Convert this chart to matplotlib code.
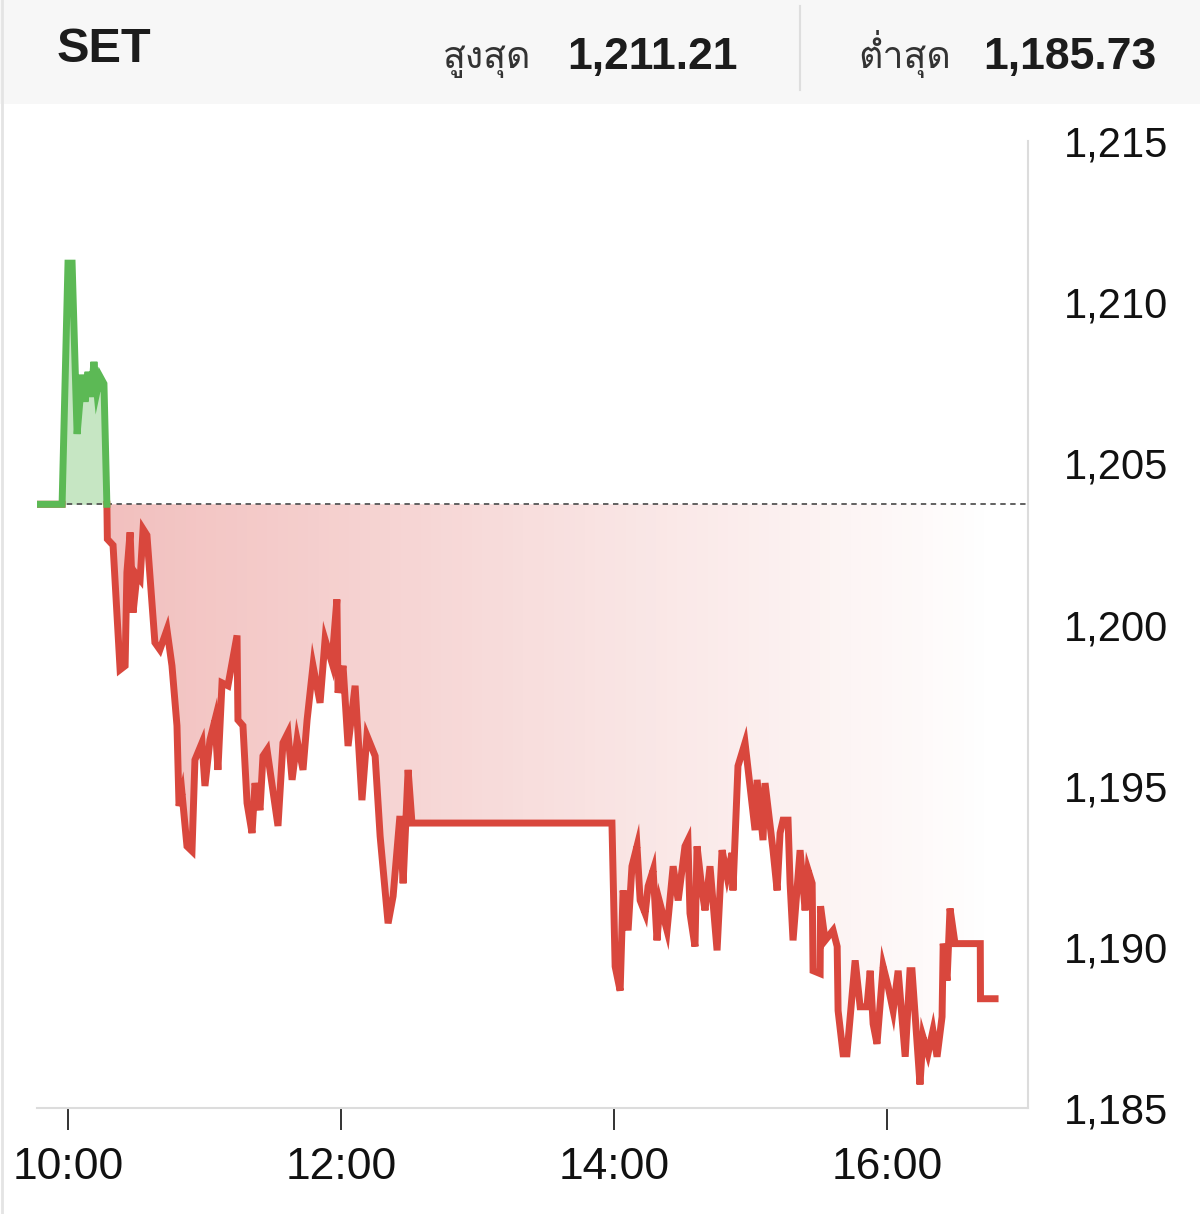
import numpy as np
import matplotlib
matplotlib.use("Agg")
import matplotlib.pyplot as plt
from matplotlib import font_manager
from matplotlib.ft2font import FT2Font
from matplotlib.path import Path
from matplotlib.patches import Rectangle
from matplotlib.lines import Line2D

# ข้อมูลดัชนี SET ระหว่างวัน (นาทีนับจาก 10:00, ราคา)
minutes = [-13.2, -2.6, 0.0, 1.8, 4.0, 6.2, 7.5, 8.8, 10.1, 11.4,
           12.7, 14.1, 15.8, 17.1, 17.3, 19.8, 22.9, 25.1, 25.9, 27.3,
           28.6, 30.3, 31.7, 33.0, 34.7, 36.9, 38.2, 40.4, 43.5, 45.7,
           47.9, 48.8, 50.1, 52.3, 54.5, 55.8, 58.9, 60.2, 62.4, 64.6,
           65.9, 67.7, 70.3, 74.3, 74.7, 76.9, 78.7, 80.9, 82.2, 84.4,
           85.7, 87.5, 92.3, 94.5, 96.7, 98.5, 100.7, 103.3, 105.1, 107.7,
           110.8, 113.0, 116.0, 118.2, 118.7, 120.9, 123.1, 126.2, 129.2, 131.4,
           135.0, 137.2, 140.7, 142.9, 145.9, 147.3, 149.5, 151.2, 239.1, 240.5,
           242.7, 244.0, 246.2, 247.9, 250.1, 251.5, 253.7, 255.0, 257.2, 258.9,
           260.2, 263.3, 266.0, 268.2, 271.2, 272.5, 273.4, 275.6, 276.5, 278.7,
           280.0, 282.2, 285.3, 287.5, 289.7, 291.9, 292.3, 294.5, 297.6, 302.0,
           302.9, 305.5, 306.4, 309.9, 311.7, 313.0, 314.3, 316.5, 317.4, 318.7,
           321.8, 324.0, 325.3, 327.1, 327.5, 330.6, 330.8, 332.8, 336.3, 338.1,
           338.5, 340.7, 342.4, 346.0, 348.2, 351.2, 352.6, 353.9, 355.6, 358.3,
           360.5, 362.7, 364.9, 368.0, 370.1, 371.0, 374.5, 375.8, 378.0, 380.2,
           382.0, 384.2, 384.7, 386.4, 387.7, 389.9, 401.0, 401.1, 407.5]
prices = [1203.73, 1203.73, 1211.21, 1211.21, 1205.91, 1207.75, 1206.91, 1207.84, 1207.06, 1208.15,
          1207.22, 1207.69, 1207.47, 1203.70, 1202.65, 1202.46, 1198.60, 1198.72, 1201.62, 1202.86,
          1200.37, 1201.53, 1201.40, 1202.96, 1202.77, 1200.68, 1199.44, 1199.22, 1199.84, 1198.72,
          1196.86, 1194.37, 1194.77, 1193.12, 1192.97, 1195.80, 1196.33, 1194.99, 1196.42, 1197.04,
          1195.49, 1198.19, 1198.10, 1199.66, 1197.04, 1196.86, 1194.46, 1193.53, 1195.08, 1194.24,
          1195.92, 1196.11, 1193.75, 1196.33, 1196.64, 1195.18, 1196.42, 1195.49, 1197.04, 1198.72,
          1197.57, 1199.53, 1198.82, 1200.78, 1197.88, 1198.72, 1196.23, 1198.10, 1194.55, 1196.55,
          1195.92, 1193.43, 1190.73, 1191.57, 1194.06, 1191.97, 1195.49, 1193.84, 1193.84, 1189.39,
          1188.64, 1191.75, 1190.51, 1192.50, 1193.12, 1191.44, 1191.04, 1191.88, 1192.38, 1190.20,
          1191.35, 1190.51, 1192.50, 1191.44, 1193.12, 1193.31, 1191.04, 1190.01, 1193.12, 1191.75,
          1191.13, 1192.50, 1189.89, 1193.00, 1192.19, 1192.91, 1191.75, 1195.61, 1196.33, 1193.62,
          1195.18, 1193.31, 1195.08, 1193.00, 1191.75, 1193.53, 1193.93, 1193.93, 1191.97, 1190.20,
          1193.00, 1191.13, 1192.38, 1191.97, 1189.26, 1189.17, 1191.26, 1190.20, 1190.51, 1190.01,
          1188.02, 1186.68, 1186.68, 1189.58, 1188.14, 1188.14, 1189.26, 1187.61, 1186.99, 1189.39,
          1188.77, 1188.02, 1189.26, 1186.59, 1189.26, 1189.26, 1185.73, 1187.21, 1186.68, 1187.40,
          1186.59, 1187.83, 1190.10, 1188.95, 1191.19, 1190.10, 1190.10, 1188.39, 1188.39]

prev_close = 1203.73
day_high = "1,211.21"
day_low = "1,185.73"
xtick_pos = [0, 120, 240, 360]
xtick_labels = ["10:00", "12:00", "14:00", "16:00"]
ytick_pos = [1185, 1190, 1195, 1200, 1205, 1210, 1215]

RED = "#d9473d"
GREEN = "#5cb955"
W, H = 1200, 1214


def thai_font():
    # หา font ที่มีอักษรไทย
    for f in font_manager.fontManager.ttflist:
        try:
            ft = FT2Font(f.fname)
            if ft.get_char_index(ord("ส")) and ft.get_char_index(ord("ุ")):
                return f.name
        except Exception:
            pass
    return "DejaVu Sans"


def add_crossings(t, v, base):
    ts, vs = [t[0]], [v[0]]
    for i in range(1, len(t)):
        a, b = v[i - 1] - base, v[i] - base
        if a * b < 0:
            f = a / (a - b)
            ts.append(t[i - 1] + f * (t[i] - t[i - 1]))
            vs.append(base)
        ts.append(t[i])
        vs.append(v[i])
    return np.array(ts), np.array(vs)


plt.rcParams["font.family"] = ["Liberation Sans", "DejaVu Sans"]
TH = thai_font()

fig = plt.figure(figsize=(W / 100, H / 100), dpi=100)
fig.patch.set_facecolor("white")

# header band
fig.patches.append(Rectangle((0, 1 - 104 / H), 1, 104 / H, transform=fig.transFigure,
                             facecolor="#f7f7f7", edgecolor="none", zorder=0))
fig.lines.append(Line2D([800 / W, 800 / W], [1 - 6 / H, 1 - 90 / H], transform=fig.transFigure,
                        color="#dedede", lw=1.5))
fig.lines.append(Line2D([2 / W, 2 / W], [0, 1], transform=fig.transFigure, color="#e4e4e4", lw=2))

fig.text(57 / W, 1 - 62 / H, "SET", fontsize=35, fontweight="bold", color="#1c1c1c", va="baseline")
fig.text(443 / W, 1 - 68 / H, "สูงสุด", fontsize=27, color="#333333", va="baseline",
         family=[TH, "DejaVu Sans"])
fig.text(567 / W, 1 - 69 / H, day_high, fontsize=32, fontweight="bold", color="#1c1c1c", va="baseline")
fig.text(858 / W, 1 - 68 / H, "ต่ำสุด", fontsize=27, color="#333333", va="baseline",
         family=[TH, "DejaVu Sans"])
fig.text(983 / W, 1 - 69 / H, day_low, fontsize=32, fontweight="bold", color="#1c1c1c", va="baseline")

ax = fig.add_axes([37 / W, 1 - 1108 / H, (1028 - 37) / W, (1108 - 141) / H])
ax.set_facecolor("none")

t, v = add_crossings(np.array(minutes, float), np.array(prices, float), prev_close)

# green area above previous close
ax.fill_between(t, v, prev_close, where=v >= prev_close, color=GREEN, alpha=0.35, lw=0, zorder=1)

# red area below, gradient fading to the right
poly = ax.fill_between(t, v, prev_close, where=v <= prev_close, facecolor="none", lw=0)
clip = Path.make_compound_path(*poly.get_paths())
n = 256
grad = np.zeros((1, n, 4))
grad[..., 0], grad[..., 1], grad[..., 2] = 0.85, 0.27, 0.25
grad[0, :, 3] = np.linspace(0.34, 0.0, n)
red_start = t[v < prev_close][0] - 1
im = ax.imshow(grad, extent=[red_start, max(minutes), 1185, prev_close], aspect="auto",
               interpolation="bilinear", zorder=1)
im.set_clip_path(clip, transform=ax.transData)

ax.axhline(prev_close, color="#555555", lw=1.3, ls=(0, (3, 2.5)), zorder=2)

red_line = np.where(v <= prev_close, v, np.nan)
green_line = np.where(v >= prev_close, v, np.nan)
ax.plot(t, red_line, color=RED, lw=5, solid_joinstyle="miter", zorder=3)
ax.plot(t, green_line, color=GREEN, lw=5, solid_joinstyle="miter", zorder=4)

ax.set_xlim((37 - 68) / 2.275, (1028 - 68) / 2.275)
ax.set_ylim(1185, 1215)

for s in ["left", "top"]:
    ax.spines[s].set_visible(False)
for s in ["right", "bottom"]:
    ax.spines[s].set_color("#dcdcdc")
    ax.spines[s].set_linewidth(1.5)

ax.set_xticks(xtick_pos)
ax.set_xticklabels(xtick_labels)
ax.tick_params(axis="x", length=16, width=1.2, color="#111111", pad=12, labelsize=32,
               labelcolor="#111111")
ax.yaxis.tick_right()
ax.set_yticks(ytick_pos)
ax.set_yticklabels([f"{y:,}" for y in ytick_pos])
ax.tick_params(axis="y", length=0, pad=26, labelsize=30, labelcolor="#111111")

fig.savefig("out.png", dpi=100)
